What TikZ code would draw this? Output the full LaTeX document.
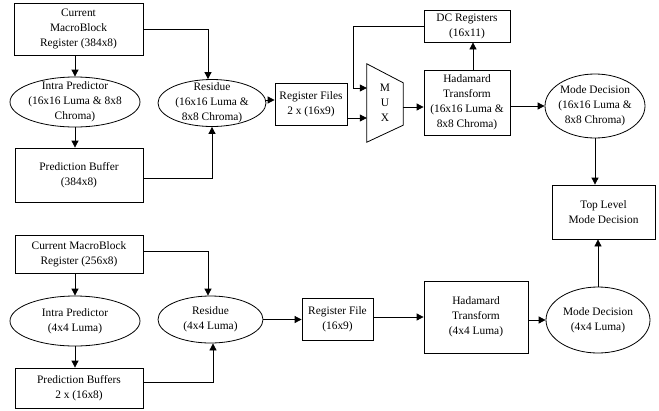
\documentclass[tikz,border=0pt]{standalone}
\usepackage{fontspec}
\setmainfont{Liberation Serif}
\usetikzlibrary{arrows.meta,shapes.geometric}
\begin{document}
\begin{tikzpicture}[x=1pt,y=-1pt,
  every node/.style={font=\fontsize{11.4}{15}\selectfont, align=center, inner sep=0pt},
  blk/.style={draw, rectangle, line width=0.8pt},
  ell/.style={draw, ellipse, line width=0.8pt},
  hide/.style={rectangle, draw=none},
  arr/.style={-{Triangle[length=7pt,width=7pt]}, line width=0.8pt}
]
\useasboundingbox (0,0) rectangle (659,410);

% ---------------- 16x16 luma / 8x8 chroma path ----------------
\node[blk, minimum width=129, minimum height=52] (cmb1) at (78.5,29) {Current\\MacroBlock\\Register (384x8)};
\node[ell, minimum width=130, minimum height=50] (ip1) at (75,102) {};
\node (ip1t) at (ip1) {Intra Predictor\\(16x16 Luma \& 8x8\\Chroma)};
\node[blk, minimum width=128, minimum height=54] (pb1) at (79,175) {Prediction Buffer\\(384x8)};
\node[ell, minimum width=108, minimum height=47] (res1) at (212,103) {};
\node (res1t) at (res1) {Residue\\(16x16 Luma \&\\8x8 Chroma)};
\node[blk, minimum width=72, minimum height=42] (rf1) at (311,104) {Register Files\\2 x (16x9)};

% multiplexer: trapezoid drawn over an invisible frame node
\node[hide, minimum width=36, minimum height=78] (mux) at (385,103) {M\\U\\X};
\draw[line width=0.8pt] (mux.north west) -- ([yshift=-19pt]mux.north east)
  -- ([yshift=17pt]mux.south east) -- (mux.south west) -- cycle;

\node[blk, minimum width=86, minimum height=32] (dc) at (467,26) {DC Registers\\(16x11)};
\node[blk, minimum width=86, minimum height=65] (had1) at (467,102.5) {Hadamard\\Transform\\(16x16 Luma \&\\8x8 Chroma)};
\node[ell, minimum width=100, minimum height=64] (md1) at (595,106) {};
\node (md1t) at (md1) {Mode Decision\\(16x16 Luma \&\\8x8 Chroma)};
\node[blk, minimum width=103, minimum height=54] (top) at (603.5,212) {Top Level\\Mode Decision};

\coordinate (dcturn) at (353,88);

\draw[arr] (ip1.north |- cmb1.south) -- (ip1.north);
\draw[arr] (ip1.south) -- (ip1.south |- pb1.north);
\draw[arr] (cmb1.east) -| ([xshift=-4pt]res1.north);
\draw[arr] ([yshift=-3pt]pb1.east) -| (res1.south);
\draw[arr] ([yshift=3pt]res1.east) -- ([yshift=3pt]res1.east -| rf1.west);
\draw[arr] ([yshift=-14pt]rf1.east) -- ([yshift=-14pt]rf1.east -| mux.west);
\draw[arr] (dc.west) -| (dcturn) -- (dcturn -| mux.west);
\draw[arr] ([xshift=6pt]had1.north) -- ([xshift=6pt]dc.south);
\draw[arr] ([yshift=-4pt]mux.east) -- ([yshift=-4pt]mux.east -| had1.west);
\draw[arr] (had1.east |- md1.west) -- (md1.west);
\draw[arr] (md1.south) -- (md1.south |- top.north);

% ---------------- 4x4 luma path ----------------
\node[blk, minimum width=128, minimum height=38] (cmb2) at (79,254) {Current MacroBlock\\Register (256x8)};
\node[ell, minimum width=130, minimum height=50] (ip2) at (75,321) {};
\node (ip2t) at (ip2) {Intra Predictor\\(4x4 Luma)};
\node[blk, minimum width=128, minimum height=40] (pb2) at (79,388) {Prediction Buffers\\2 x (16x8)};
\node[ell, minimum width=105, minimum height=47] (res2) at (210.5,319.5) {};
\node (res2t) at (res2) {Residue\\(4x4 Luma)};
\node[blk, minimum width=71, minimum height=42] (rf2) at (337.5,319) {Register File\\(16x9)};
\node[blk, minimum width=104, minimum height=72] (had2) at (476,317) {Hadamard\\Transform\\(4x4 Luma)};
\node[ell, minimum width=104, minimum height=66] (md2) at (598,320) {};
\node (md2t) at (md2) {Mode Decision\\(4x4 Luma)};

\draw[arr] (ip2.north |- cmb2.south) -- (ip2.north);
\draw[arr] (ip2.south) -- (ip2.south |- pb2.north);
\draw[arr] ([yshift=3pt]cmb2.east) -| ([xshift=-2.5pt]res2.north);
\draw[arr] ([yshift=6pt]pb2.east) -| ([xshift=2.5pt]res2.south);
\draw[arr] (res2.east) -- (res2.east -| rf2.west);
\draw[arr] ([yshift=2pt]rf2.east) -- ([yshift=2pt]rf2.east -| had2.west);
\draw[arr] (had2.east |- md2.west) -- (md2.west);
\draw[arr] (md2.north) -- (md2.north |- top.south);
\end{tikzpicture}
\end{document}
